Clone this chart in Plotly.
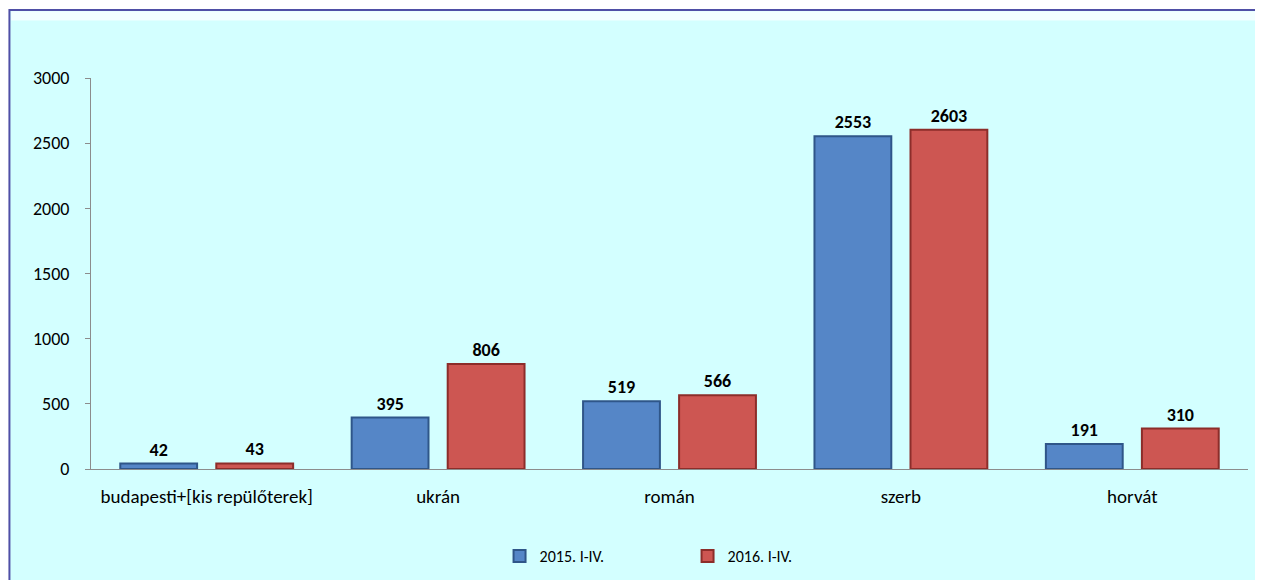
import plotly.graph_objects as go

categories = ["budapesti+[kis repülőterek]", "ukrán", "román", "szerb", "horvát"]
series_names = ["2015. I-IV.", "2016. I-IV."]
values_2015 = [42, 395, 519, 2553, 191]
values_2016 = [43, 806, 566, 2603, 310]
y_ticks = [0, 500, 1000, 1500, 2000, 2500, 3000]

FONT = "Calibri, Carlito, Lato, sans-serif"

fig = go.Figure()
fig.add_trace(go.Bar(
    x=categories, y=values_2015, name=series_names[0],
    marker=dict(color="#5586C7", line=dict(color="#2F5689", width=2)),
    text=values_2015, textposition="outside", cliponaxis=False,
    textfont=dict(family=FONT, size=18, color="#000000", weight="bold"),
))
fig.add_trace(go.Bar(
    x=categories, y=values_2016, name=series_names[1],
    marker=dict(color="#CD5652", line=dict(color="#8C2D2A", width=2)),
    text=values_2016, textposition="outside", cliponaxis=False,
    textfont=dict(family=FONT, size=18, color="#000000", weight="bold"),
))

fig.update_layout(
    width=1255, height=572,
    margin=dict(l=83, r=15, t=70, b=111, autoexpand=False),
    paper_bgcolor="#FFFFFF",
    plot_bgcolor="rgba(0,0,0,0)",
    font=dict(family=FONT, size=18, color="#000000"),
    barmode="group", bargap=0.17, bargroupgap=0.2,
    showlegend=True,
    legend=dict(orientation="h", x=0.5156, xanchor="center",
                yref="container", y=0.042, yanchor="middle",
                font=dict(size=16), entrywidth=143, entrywidthmode="pixels",
                bgcolor="rgba(0,0,0,0)"),
    xaxis=dict(showline=True, linecolor="#8C8C8C", linewidth=1, ticks="",
               showgrid=False, tickfont=dict(size=19), ticklabelstandoff=10,
               automargin=False),
    yaxis=dict(range=[0, 3000], tickvals=y_ticks, showline=True, linecolor="#8C8C8C",
               linewidth=1, ticks="outside", ticklen=5, tickcolor="#8C8C8C",
               showgrid=False, zeroline=False, tickfont=dict(size=18),
               ticklabelstandoff=12, automargin=False),
    shapes=[
        dict(type="rect", xref="paper", yref="paper", x0=-0.0705, x1=1.05, y0=-0.35, y1=1.174,
             fillcolor="#D3FFFF", line=dict(color="#4F4FA6", width=2), layer="below"),
        dict(type="rect", xref="paper", yref="paper", x0=-0.069, x1=1.05, y0=1.147, y1=1.171,
             fillcolor="#F2FFFF", line=dict(width=0), layer="below"),
    ],
)

fig.write_html("out.html")
